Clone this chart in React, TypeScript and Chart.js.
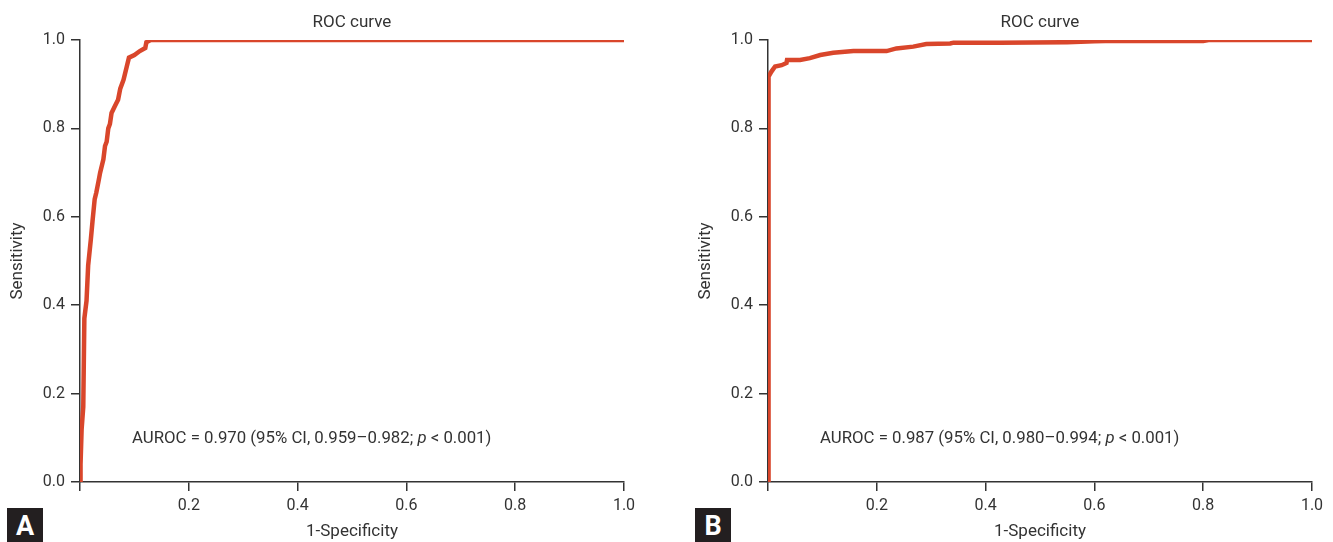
import React, { useEffect, useRef } from "react";
import { Chart, registerables } from "chart.js";
Chart.register(...registerables);

// Panel A ROC curve (1-specificity, sensitivity)
const fprA = [0, 0.001, 0.003, 0.006, 0.008, 0.012, 0.015, 0.02, 0.023, 0.027, 0.03, 0.034, 0.037, 0.043, 0.046, 0.049, 0.052, 0.055, 0.058, 0.064, 0.07, 0.074, 0.08, 0.086, 0.09, 0.1, 0.11, 0.12, 0.122, 0.13, 0.15, 1.0];
const tprA = [0, 0.04, 0.12, 0.17, 0.37, 0.41, 0.49, 0.55, 0.59, 0.64, 0.655, 0.68, 0.7, 0.73, 0.76, 0.77, 0.8, 0.81, 0.835, 0.85, 0.865, 0.89, 0.91, 0.94, 0.96, 0.966, 0.975, 0.982, 0.995, 1.0, 1.0, 1.0];

// Panel B ROC curve
const fprB = [0.001, 0.001, 0.006, 0.013, 0.025, 0.034, 0.035, 0.059, 0.077, 0.096, 0.12, 0.157, 0.218, 0.236, 0.267, 0.291, 0.335, 0.341, 0.426, 0.55, 0.6, 0.62, 0.8, 0.81, 1.0];
const tprB = [0, 0.917, 0.928, 0.94, 0.943, 0.948, 0.955, 0.955, 0.959, 0.966, 0.971, 0.975, 0.975, 0.981, 0.985, 0.991, 0.992, 0.994, 0.994, 0.995, 0.997, 0.998, 0.998, 1.0, 1.0];

const xTickLabels = ["", "0.2", "0.4", "0.6", "0.8", "1.0"];
const yTickLabels = ["0.0", "0.2", "0.4", "0.6", "0.8", "1.0"];
const chartTitle = "ROC curve";
const xAxisTitle = "1-Specificity";
const yAxisTitle = "Sensitivity";
const aucA = ["0.970", "0.959–0.982", "0.001"];
const aucB = ["0.987", "0.980–0.994", "0.001"];

const FONT = "Roboto";
const TEXT = "#333333";
const LINE = "#d9462b";
const H = 542;

function makePanel(canvas: HTMLCanvasElement, width: number, fpr: number[], tpr: number[], auc: string[]) {
  const textPlugin = {
    id: "texts",
    afterDraw(chart: any) {
      const { ctx, chartArea } = chart;
      ctx.save();
      ctx.fillStyle = TEXT;
      ctx.font = `17px ${FONT}`;
      ctx.textAlign = "center";
      ctx.textBaseline = "middle";
      ctx.fillText(chartTitle, (chartArea.left + chartArea.right) / 2, 23);
      ctx.textAlign = "left";
      ctx.textBaseline = "alphabetic";
      const fs = 16.8;
      const parts = [
        { t: `AUROC = ${auc[0]} (95% CI, ${auc[1]}; `, f: `${fs}px ${FONT}` },
        { t: "p", f: `italic ${fs}px ${FONT}` },
        { t: ` < ${auc[2]})`, f: `${fs}px ${FONT}` },
      ];
      let x = chartArea.left + 52;
      for (const p of parts) {
        ctx.font = p.f;
        ctx.fillText(p.t, x, 443);
        x += ctx.measureText(p.t).width;
      }
      ctx.restore();
    },
  };
  return new Chart(canvas, {
    type: "line",
    data: {
      datasets: [
        {
          data: fpr.map((v, i) => ({ x: v, y: tpr[i] })),
          borderColor: LINE,
          borderWidth: 4.5,
          pointRadius: 0,
          tension: 0,
          fill: false,
        },
      ],
    },
    options: {
      responsive: false,
      animation: false,
      layout: { padding: { left: 0, top: 40, right: width - 624, bottom: 0 } },
      plugins: { legend: { display: false }, tooltip: { enabled: false }, title: { display: false } },
      scales: {
        x: {
          type: "linear",
          min: 0,
          max: 1,
          afterFit: (s: any) => { s.height = 60; },
          border: { display: true, color: TEXT, width: 1.5 },
          grid: { display: true, drawOnChartArea: false, drawTicks: true, tickLength: 9, color: TEXT, lineWidth: 1.5 },
          ticks: {
            stepSize: 0.2,
            autoSkip: false,
            maxRotation: 0,
            padding: 5,
            color: TEXT,
            font: { family: FONT, size: 16 },
            callback: (_v: any, i: number) => xTickLabels[i],
          },
          title: { display: true, text: xAxisTitle, color: TEXT, font: { family: FONT, size: 17 }, padding: { top: 0, bottom: 0 } },
        },
        y: {
          type: "linear",
          min: 0,
          max: 1,
          z: 1,
          afterFit: (s: any) => { s.width = 80; },
          border: { display: true, color: TEXT, width: 1.5 },
          grid: { display: true, drawOnChartArea: false, drawTicks: true, tickLength: 9, color: TEXT, lineWidth: 1.5 },
          ticks: {
            stepSize: 0.2,
            autoSkip: false,
            padding: 6,
            color: TEXT,
            font: { family: FONT, size: 16 },
            callback: (_v: any, i: number) => yTickLabels[i],
          },
          title: { display: true, text: yAxisTitle, color: TEXT, font: { family: FONT, size: 17 }, padding: { top: 8, bottom: 0 } },
        },
      },
    },
    plugins: [textPlugin],
  } as any);
}

function Panel({ left, width, fpr, tpr, auc, letter }: any) {
  const ref = useRef<HTMLCanvasElement>(null);
  useEffect(() => {
    const c = makePanel(ref.current!, width, fpr, tpr, auc);
    return () => c.destroy();
  }, []);
  return (
    <div style={{ position: "absolute", left, top: 0, width, height: H }}>
      <canvas ref={ref} width={width} height={H} style={{ width, height: H, display: "block" }} />
      <div
        style={{
          position: "absolute",
          left: 7,
          top: 508,
          width: 36,
          height: 34,
          background: "#231f20",
          color: "#ffffff",
          fontFamily: FONT,
          fontWeight: 700,
          fontSize: 27,
          lineHeight: "36px",
          textAlign: "center",
        }}
      >
        {letter}
      </div>
    </div>
  );
}

export default function App() {
  return (
    <div style={{ position: "absolute", left: 0, top: 0, width: 1333, height: H, background: "#ffffff", overflow: "hidden" }}>
      <Panel left={0} width={688} fpr={fprA} tpr={tprA} auc={aucA} letter="A" />
      <Panel left={688} width={645} fpr={fprB} tpr={tprB} auc={aucB} letter="B" />
    </div>
  );
}
